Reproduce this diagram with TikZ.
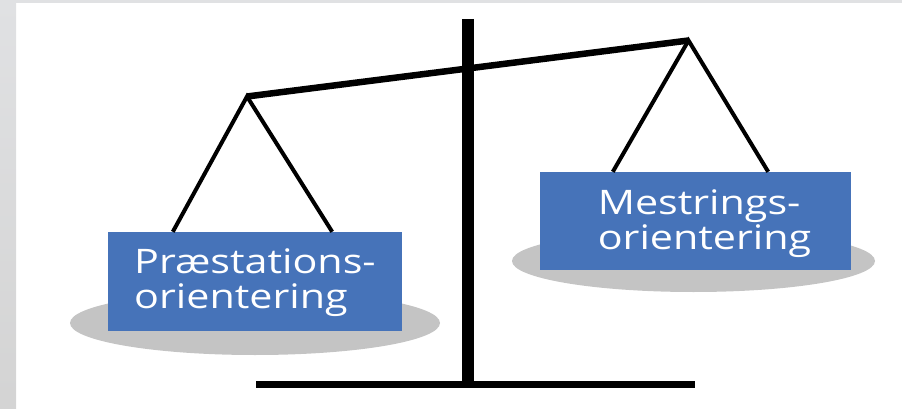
\documentclass[tikz,border=0pt]{standalone}
\usepackage{fontspec}
\newfontfamily\panfont{Open Sans}[FakeStretch=1.22]
\usepackage{tikz}
\usetikzlibrary{
    positioning
}
\definecolor{panblue}{RGB}{70,115,185}
\definecolor{shadowgray}{RGB}{196,196,196}
\definecolor{framegray}{RGB}{224,225,227}

\begin{document}
\begin{tikzpicture} [x=1pt, y=-1pt,
    shadow/.style={fill=shadowgray},
    string/.style={line width=4pt},
    beam/.style={line width=6.5pt},
    panbox/.style={rectangle, fill=panblue, inner sep=0pt},
    pantext/.style={text=white, align=left, inner sep=0pt,
        font={\panfont\fontsize{33.8}{34.8}\selectfont}}
]
    \useasboundingbox (0,0) rectangle (902,409);
    % frame
    \fill[framegray] (0,0) rectangle (902,3);
    \fill[top color=framegray, bottom color=black!17, draw=none] (0,0) rectangle (16,409);

    % shadows under the pans
    \fill[shadow] (255,323) ellipse [x radius=185, y radius=32];
    \fill[shadow] (693.5,261) ellipse [x radius=181.5, y radius=31];

    % pans
    \node[panbox, minimum width=294pt, minimum height=99pt] (leftpan) at (255,281.5) {};
    \node[panbox, minimum width=311pt, minimum height=98pt] (rightpan) at (695.5,221) {};

    % stand and beam
    \coordinate (posttop) at (467.5,19);
    \coordinate (postfoot) at (467.5,384);
    \coordinate (baseleft) at (256,384);
    \coordinate (baseright) at (695,384);
    \coordinate (lefthook) at (247,96.5);
    \coordinate (righthook) at (688.5,40.5);
    \draw[line width=12pt] (posttop) -- (postfoot);
    \draw[line width=7pt] (baseleft) -- (baseright);

    \draw[string] ([xshift=65pt]leftpan.north west) -- (lefthook) -- ([xshift=-70pt]leftpan.north east);
    \draw[string] ([xshift=73pt]rightpan.north west) -- (righthook) -- ([xshift=-83pt]rightpan.north east);
    \draw[beam] (lefthook) -- (righthook);

    % labels
    \node[pantext] (lefttext) at ([yshift=-1pt]leftpan.center) {Præstations-\\orientering};
    \node[pantext] (righttext) at ([xshift=9pt,yshift=-3pt]rightpan.center) {Mestrings-\\orientering};
\end{tikzpicture}
\end{document}
